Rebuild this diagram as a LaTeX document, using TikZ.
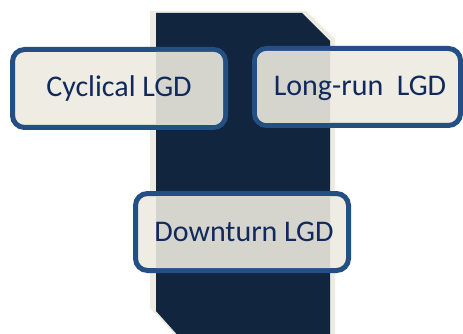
\documentclass[tikz,border=0pt]{standalone}
\usepackage{fontspec}
\setmainfont{Carlito}
\definecolor{navy}{HTML}{12253F}
\definecolor{creambg}{HTML}{EEEBE2}
\definecolor{boxcream}{HTML}{EEECE3}
\definecolor{boxgray}{HTML}{D5D5CE}
\definecolor{boxedge}{HTML}{244F84}
\definecolor{txt}{HTML}{12295C}
\newcommand{\darkshape}{(156,13) -- (302,13) -- (330,41) -- (330,340) -- (182,340) -- (156,311) -- cycle}
\newcommand{\grayover}[1]{\begin{scope}\clip \darkshape;
  \fill[boxgray, rounded corners=9.5pt] ([shift={(2.5pt,2.5pt)}]#1.south west) rectangle ([shift={(-2.5pt,-2.5pt)}]#1.north east);
  \end{scope}}
\tikzset{
  lgdbox/.style={draw=boxedge, line width=5pt, fill=boxcream, rounded corners=12pt, inner sep=0pt, outer sep=0pt},
  lgdtext/.style={text=txt, font=\fontsize{30}{34}\selectfont, inner sep=0pt},
}
\begin{document}
\begin{tikzpicture}[x=1pt,y=-1pt]
\useasboundingbox (0,0) rectangle (463,334);
\fill[white] (0,0) rectangle (463,334);
\fill[creambg] (150,11) -- (306,11) -- (335,39) -- (335,340) -- (180,340) -- (150,308) -- cycle;
\fill[navy] \darkshape;
\node[lgdbox, minimum width=213pt, minimum height=78pt] (cyc) at (119,88.5) {};
\grayover{cyc}
\node[lgdtext] (cyct) at (119,89) {Cyclical LGD};
\node[lgdbox, minimum width=206pt, minimum height=77pt, anchor=west] (lr) at (254.5,87) {};
\grayover{lr}
\node[lgdtext] (lrt) at (360,88) {Long-run\ \ LGD};
\node[lgdbox, minimum width=213pt, minimum height=77pt] (dt) at (242,232) {};
\grayover{dt}
\node[lgdtext] (dtt) at (244,232) {Downturn LGD};
\end{tikzpicture}
\end{document}
